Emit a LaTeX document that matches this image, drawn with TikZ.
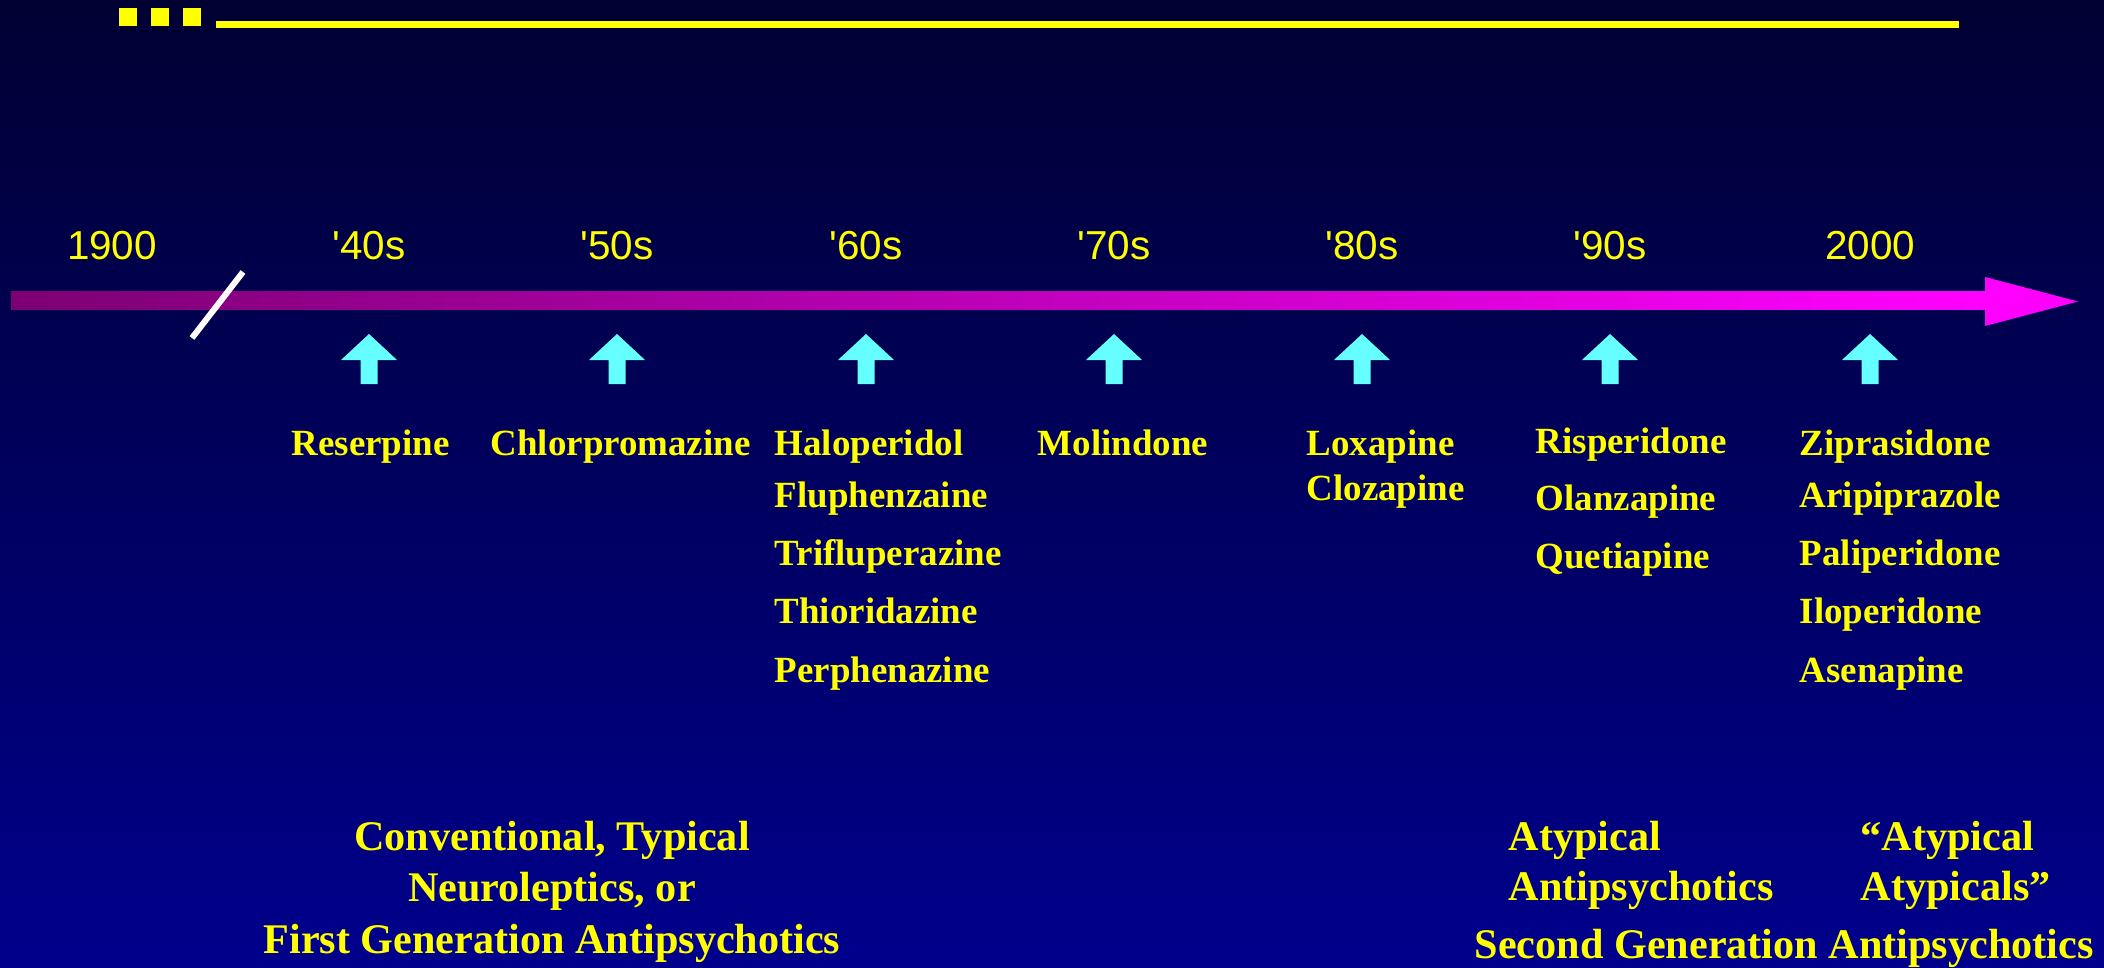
\documentclass[tikz,border=0pt]{standalone}
\usepackage{fontspec}
\setmainfont{Liberation Serif}
\newfontfamily\decadefont{Liberation Sans}
\definecolor{slidetop}{RGB}{0,0,50}
\definecolor{slidebottom}{RGB}{0,0,140}
\definecolor{barstart}{RGB}{125,0,115}
\definecolor{barend}{RGB}{255,0,255}
\definecolor{slideyellow}{RGB}{255,255,0}
\definecolor{markcyan}{RGB}{102,255,255}

\begin{document}
\begin{tikzpicture}[x=0.01cm,y=-0.01cm,
  drug/.style={anchor=base west,inner sep=0pt,text=slideyellow,font=\fontsize{10.5}{12}\selectfont\bfseries},
  decade/.style={anchor=base,inner sep=0pt,text=slideyellow,font=\decadefont\fontsize{11.5}{13}\selectfont},
  group/.style={anchor=base,inner sep=0pt,text=slideyellow,font=\fontsize{12}{14}\selectfont\bfseries}]
  \useasboundingbox (0,0) rectangle (2104,967);
  \shade[top color=slidetop,bottom color=slidebottom] (0,0) rectangle (2104,967);
  % title bar
  \fill[slideyellow] (119,8) rectangle (137,26);
  \fill[slideyellow] (151,8) rectangle (169,26);
  \fill[slideyellow] (183,8) rectangle (201,26);
  \fill[slideyellow] (216,21) rectangle (1959,28);
  % time line
  \shade[left color=barstart,right color=barend] (11,292) rectangle (1986,310);
  \fill[barend] (1985,277) -- (2078,301.5) -- (1985,326) -- cycle;
  \draw[white,line width=0.06cm] (192,338) -- (243,272);
  \node[decade] (d1900) at (112,260) {1900};
  \foreach \xp/\yr in {369/40,617/50,866/60,1114/70,1362/80,1610/90} {
    \node[decade] (d\yr) at (\xp,260) {\textquotesingle\yr s};
    \fill[markcyan] (\xp,334) -- ++(28,26) -- ++(-19.5,0) -- ++(0,24) -- ++(-17,0) -- ++(0,-24) -- ++(-19.5,0) -- cycle;
  }
  \node[decade] (d2000) at (1870,260) {2000};
  \fill[markcyan] (1870,334) -- ++(28,26) -- ++(-19.5,0) -- ++(0,24) -- ++(-17,0) -- ++(0,-24) -- ++(-19.5,0) -- cycle;
  % drugs
  \node[drug] (reserpine) at (291,455) {Reserpine};
  \node[drug] (chlorpromazine) at (490,455) {Chlorpromazine};
  \node[drug] (haloperidol) at (774,455) {Haloperidol};
  \node[drug] (fluphenazine) at (774,507) {Fluphenzaine};
  \node[drug] (trifluperazine) at (774,565) {Trifluperazine};
  \node[drug] (thioridazine) at (774,623) {Thioridazine};
  \node[drug] (perphenazine) at (774,682) {Perphenazine};
  \node[drug] (molindone) at (1037,455) {Molindone};
  \node[drug] (loxapine) at (1306,455) {Loxapine};
  \node[drug] (clozapine) at (1306,500) {Clozapine};
  \node[drug] (risperidone) at (1535,453) {Risperidone};
  \node[drug] (olanzapine) at (1535,510) {Olanzapine};
  \node[drug] (quetiapine) at (1535,568) {Quetiapine};
  \node[drug] (ziprasidone) at (1799,455) {Ziprasidone};
  \node[drug] (aripiprazole) at (1799,507) {Aripiprazole};
  \node[drug] (paliperidone) at (1799,565) {Paliperidone};
  \node[drug] (iloperidone) at (1799,623) {Iloperidone};
  \node[drug] (asenapine) at (1799,682) {Asenapine};
  % groups
  \node[group] (conv1) at (552,850) {Conventional, Typical};
  \node[group] (conv2) at (552,901) {Neuroleptics, or};
  \node[group] (conv3) at (552,953) {First Generation Antipsychotics};
  \node[group,anchor=base west] (atyp1) at (1508,850) {Atypical};
  \node[group,anchor=base west] (atyp2) at (1508,900) {Antipsychotics};
  \node[group,anchor=base west] (aa1) at (1860,850) {“Atypical};
  \node[group,anchor=base west] (aa2) at (1860,900) {Atypicals”};
  \node[group,anchor=base west] (second) at (1474,958) {Second Generation Antipsychotics};
\end{tikzpicture}
\end{document}
